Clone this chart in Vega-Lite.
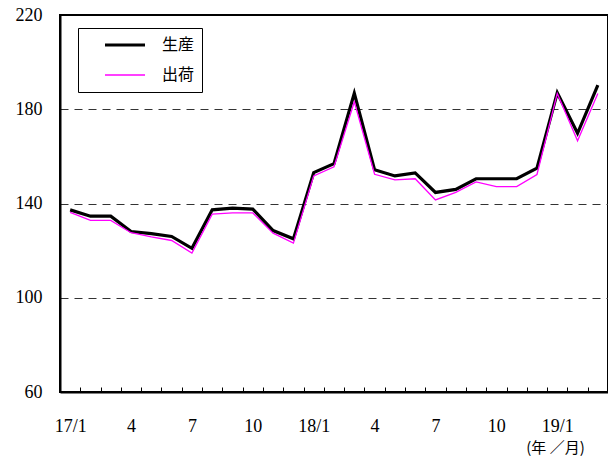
{
  "$schema": "https://vega.github.io/schema/vega-lite/v6.json",
  "width": 548,
  "height": 377,
  "autosize": {"type": "none"},
  "padding": {"left": 60, "top": 15, "right": 0, "bottom": 67},
  "background": "white",
  "config": {
    "view": {"stroke": "black", "strokeWidth": 2},
    "axis": {"labelColor": "black", "titleColor": "black", "domainColor": "black", "domainWidth": 2, "labelFontWeight": "normal"}
  },
  "data": {
    "values": [
      {"t": 1, "生産": 137.3, "出荷": 136.2},
      {"t": 2, "生産": 134.6, "出荷": 132.8},
      {"t": 3, "生産": 134.6, "出荷": 132.8},
      {"t": 4, "生産": 128.1, "出荷": 127.6},
      {"t": 5, "生産": 127.2, "出荷": 125.8},
      {"t": 6, "生産": 126.0, "出荷": 124.3},
      {"t": 7, "生産": 121.0, "出荷": 119.0},
      {"t": 8, "生産": 137.3, "出荷": 135.5},
      {"t": 9, "生産": 138.0, "出荷": 136.0},
      {"t": 10, "生産": 137.6, "出荷": 136.0},
      {"t": 11, "生産": 128.5, "出荷": 127.4},
      {"t": 12, "生産": 125.0, "出荷": 123.2},
      {"t": 13, "生産": 153.1, "出荷": 151.7},
      {"t": 14, "生産": 156.9, "出荷": 155.6},
      {"t": 15, "生産": 186.8, "出荷": 183.2},
      {"t": 16, "生産": 154.3, "出荷": 152.4},
      {"t": 17, "生産": 151.7, "出荷": 150.0},
      {"t": 18, "生産": 153.0, "出荷": 150.5},
      {"t": 19, "生産": 144.7, "出荷": 141.5},
      {"t": 20, "生産": 146.0, "出荷": 144.7},
      {"t": 21, "生産": 150.5, "出荷": 149.2},
      {"t": 22, "生産": 150.5, "出荷": 147.2},
      {"t": 23, "生産": 150.5, "出荷": 147.2},
      {"t": 24, "生産": 155.0, "出荷": 152.3},
      {"t": 25, "生産": 187.0, "出荷": 186.7},
      {"t": 26, "生産": 169.8, "出荷": 166.6},
      {"t": 27, "生産": 190.2, "出荷": 186.7}
    ]
  },
  "transform": [{"fold": ["生産", "出荷"], "as": ["series", "value"]}],
  "mark": {"type": "line", "strokeJoin": "miter"},
  "encoding": {
    "x": {
      "field": "t",
      "type": "quantitative",
      "scale": {"domain": [0.5, 27.5], "nice": false, "zero": false},
      "axis": {
        "values": [1, 4, 7, 10, 13, 16, 19, 22, 25, 1.5, 2.5, 3.5, 4.5, 5.5, 6.5, 7.5, 8.5, 9.5, 10.5, 11.5, 12.5, 13.5, 14.5, 15.5, 16.5, 17.5, 18.5, 19.5, 20.5, 21.5, 22.5, 23.5, 24.5, 25.5, 26.5],
        "labelExpr": "datum.value % 1 != 0 ? '' : datum.value == 1 ? '17/1' : datum.value == 13 ? '18/1' : datum.value == 25 ? '19/1' : '' + ((datum.value - 1) % 12 + 1)",
        "labelOverlap": false,
        "labelFlush": false,
        "grid": false,
        "ticks": true,
        "tickSize": -5,
        "tickWidth": 1,
        "tickColor": {"condition": {"test": "datum.value % 1 == 0", "value": "transparent"}, "value": "black"},
        "labelPadding": 30,
        "labelFont": "Liberation Serif",
        "labelFontSize": 18,
        "title": "(年 ／月)",
        "titleFont": "Noto Sans CJK JP",
        "titleFontSize": 15,
        "titleFontWeight": "normal",
        "titleX": 495,
        "titleY": 55,
        "titleAlign": "center",
        "titleBaseline": "middle"
      }
    },
    "y": {
      "field": "value",
      "type": "quantitative",
      "scale": {"domain": [60, 220], "nice": false, "zero": false},
      "axis": {
        "values": [60, 100, 140, 180, 220],
        "ticks": false,
        "labelPadding": 18,
        "labelFont": "Liberation Serif",
        "labelFontSize": 18,
        "grid": true,
        "gridColor": "#333333",
        "gridDash": [8, 6],
        "gridWidth": 1,
        "gridOpacity": {"condition": {"test": "datum.value == 60 || datum.value == 220", "value": 0}, "value": 1},
        "title": null
      }
    },
    "color": {
      "field": "series",
      "type": "nominal",
      "scale": {"domain": ["生産", "出荷"], "range": ["black", "#ff00ff"]},
      "legend": {
        "title": null,
        "orient": "none",
        "legendX": 18,
        "legendY": 13,
        "strokeColor": "black",
        "fillColor": "white",
        "padding": 7,
        "symbolOffset": 18,
        "symbolType": "stroke",
        "symbolSize": 1600,
        "clipHeight": 20,
        "labelOffset": 15,
        "labelFont": "Noto Sans CJK JP",
        "labelFontSize": 16,
        "labelColor": "black",
        "labelExpr": "datum.label + '   '",
        "rowPadding": 10
      }
    },
    "strokeWidth": {
      "field": "series",
      "type": "nominal",
      "scale": {"domain": ["生産", "出荷"], "range": [3.2, 1.3]},
      "legend": null
    }
  }
}
